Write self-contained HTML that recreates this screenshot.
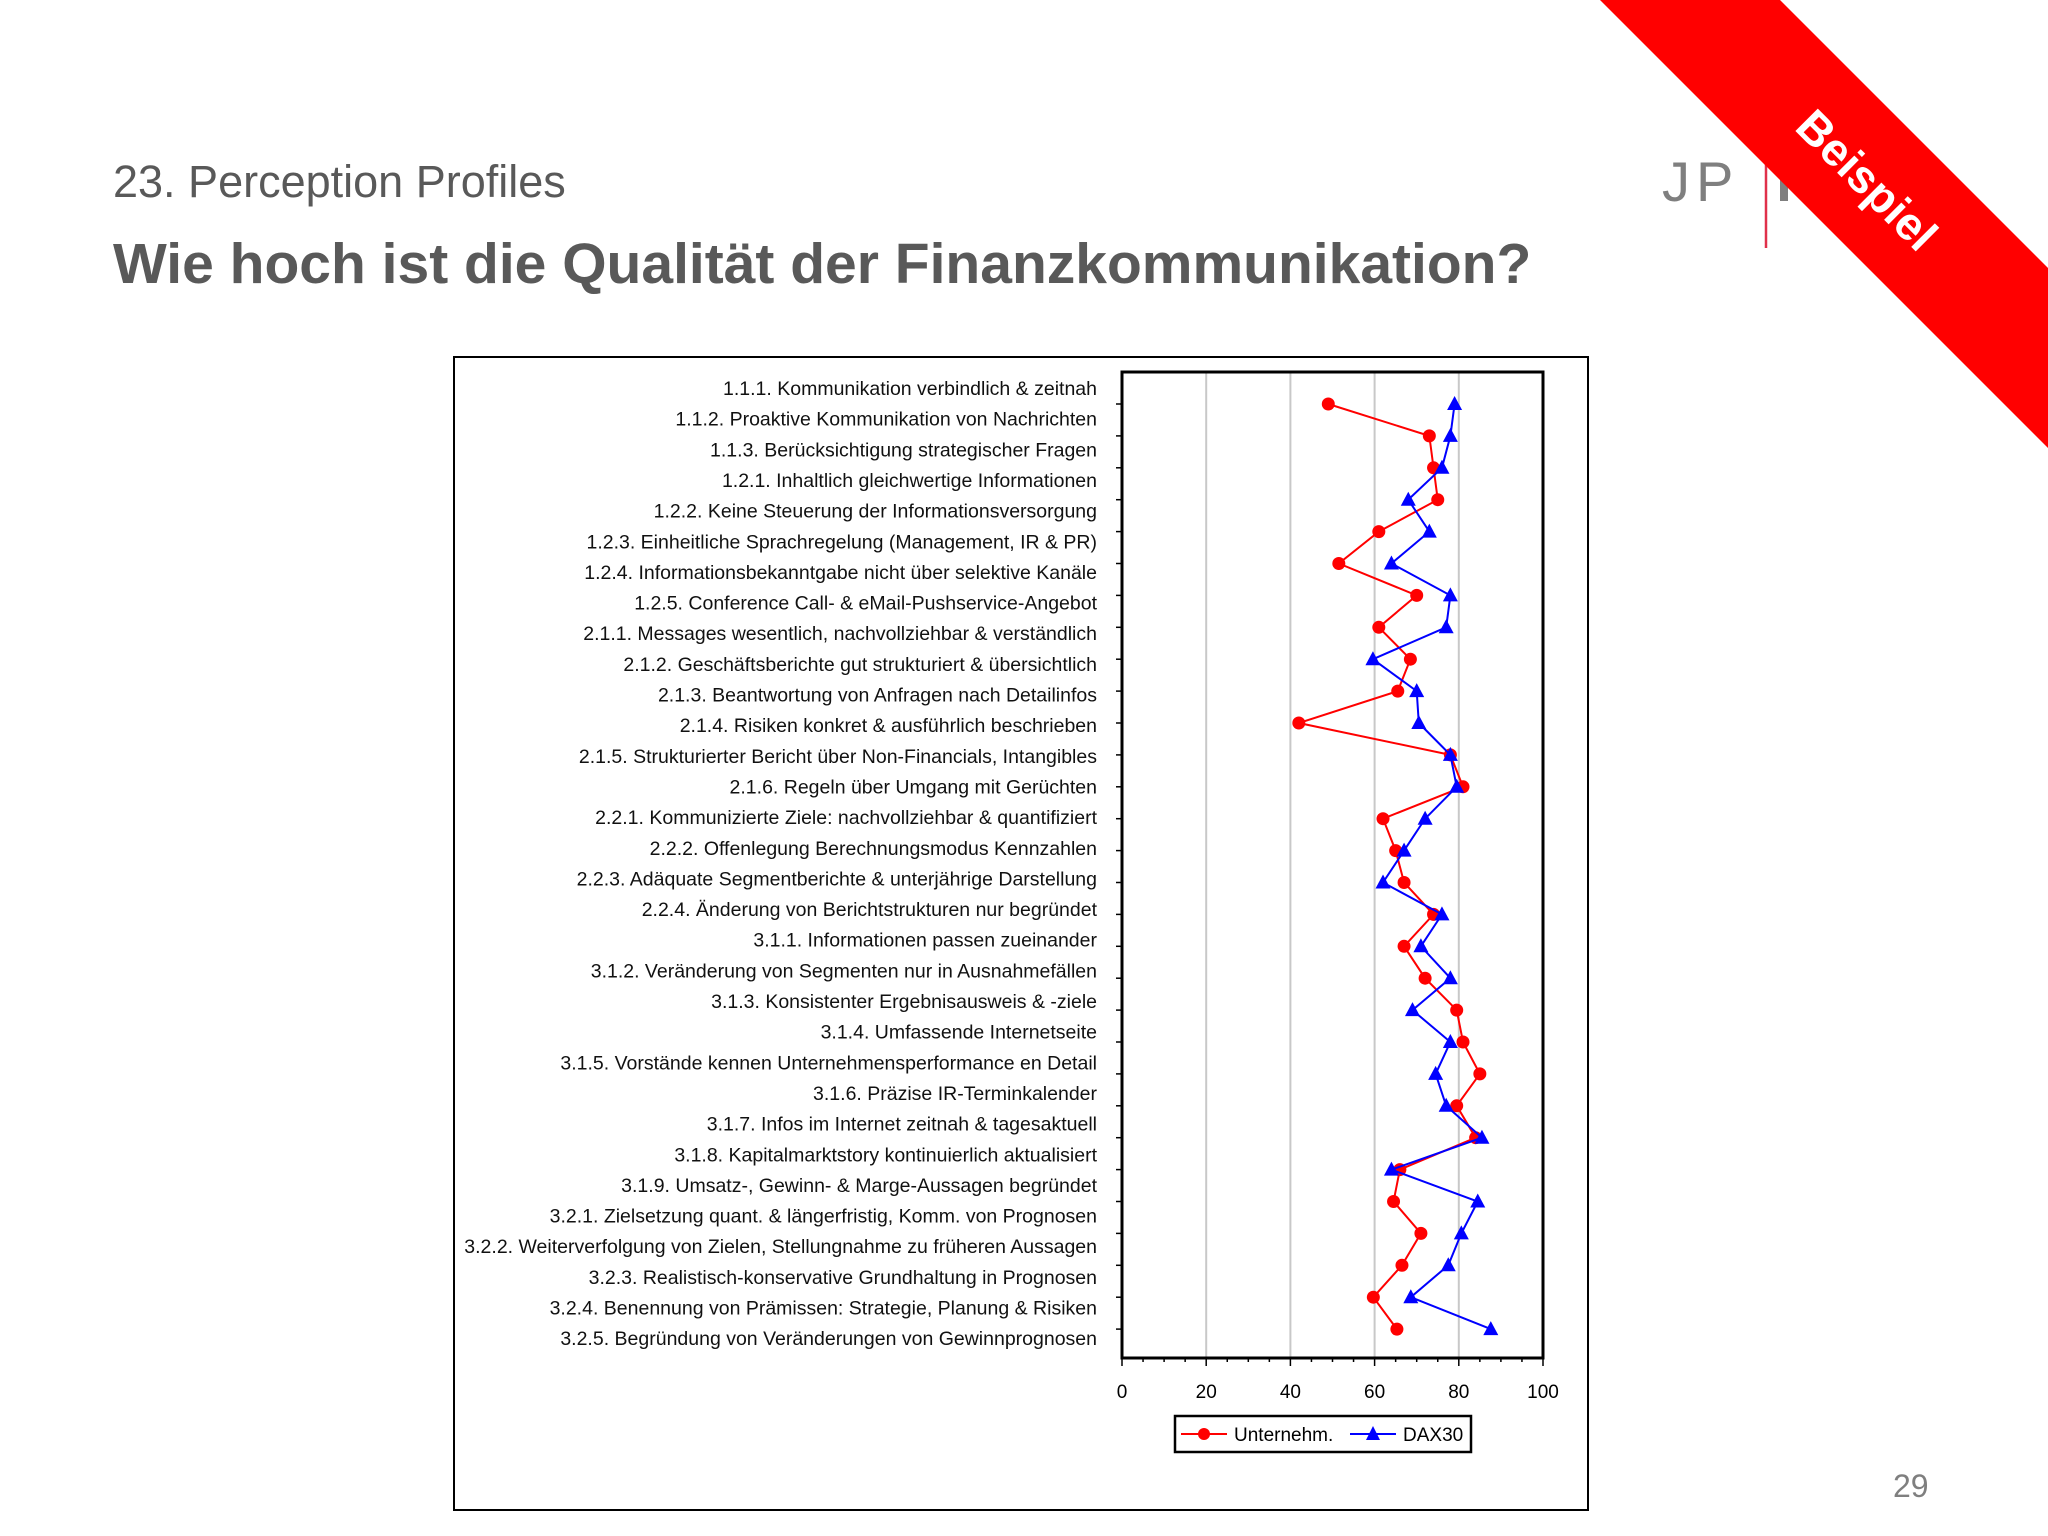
<!DOCTYPE html>
<html><head><meta charset="utf-8">
<style>
html,body{margin:0;padding:0;background:#fff;}
body{width:2048px;height:1536px;position:relative;overflow:hidden;font-family:"Liberation Sans",Arial,sans-serif;}
.sub{position:absolute;left:113px;top:156px;font-size:45px;color:#595959;}
.ttl{position:absolute;left:113px;top:231px;font-size:57px;font-weight:bold;color:#595959;}
.pg{position:absolute;left:1893px;top:1468px;font-size:32px;color:#7f7f7f;}
</style></head>
<body>
<div class="sub">23. Perception Profiles</div>
<div class="ttl">Wie hoch ist die Qualität der Finanzkommunikation?</div>
<div class="pg">29</div>

<svg width="2048" height="1536" style="position:absolute;left:0;top:0">
  <g>
    <text x="1662" y="201" font-family="Liberation Sans" font-size="56" letter-spacing="6" fill="#7f7f7f">JP</text>
    <line x1="1766" y1="148" x2="1766" y2="248" stroke="#e0304a" stroke-width="2.5"/>
    <rect x="1780" y="163" width="8" height="38" fill="#7f7f7f"/>
  </g>
  <polygon points="1600,0 1780,0 2048,268 2048,448" fill="#ff0000"/>
  <text x="1867" y="196" transform="rotate(45 1867 180)" text-anchor="middle" font-family="Liberation Sans" font-weight="bold" font-size="46" fill="#fff">Beispiel</text>
  <rect x="454" y="357" width="1134" height="1153" fill="none" stroke="#000" stroke-width="2"/>
  <g id="chart"></g>
</svg>

<script>
const categories = [
"1.1.1. Kommunikation verbindlich & zeitnah",
"1.1.2. Proaktive Kommunikation von Nachrichten",
"1.1.3. Berücksichtigung strategischer Fragen",
"1.2.1. Inhaltlich gleichwertige Informationen",
"1.2.2. Keine Steuerung der Informationsversorgung",
"1.2.3. Einheitliche Sprachregelung (Management, IR & PR)",
"1.2.4. Informationsbekanntgabe nicht über selektive Kanäle",
"1.2.5. Conference Call- & eMail-Pushservice-Angebot",
"2.1.1. Messages wesentlich, nachvollziehbar & verständlich",
"2.1.2. Geschäftsberichte gut strukturiert & übersichtlich",
"2.1.3. Beantwortung von Anfragen nach Detailinfos",
"2.1.4. Risiken konkret & ausführlich beschrieben",
"2.1.5. Strukturierter Bericht über Non-Financials, Intangibles",
"2.1.6. Regeln über Umgang mit Gerüchten",
"2.2.1. Kommunizierte Ziele: nachvollziehbar & quantifiziert",
"2.2.2. Offenlegung Berechnungsmodus Kennzahlen",
"2.2.3. Adäquate Segmentberichte & unterjährige Darstellung",
"2.2.4. Änderung von Berichtstrukturen nur begründet",
"3.1.1. Informationen passen zueinander",
"3.1.2. Veränderung von Segmenten nur in Ausnahmefällen",
"3.1.3. Konsistenter Ergebnisausweis & -ziele",
"3.1.4. Umfassende Internetseite",
"3.1.5. Vorstände kennen Unternehmensperformance en Detail",
"3.1.6. Präzise IR-Terminkalender",
"3.1.7. Infos im Internet zeitnah & tagesaktuell",
"3.1.8. Kapitalmarktstory kontinuierlich aktualisiert",
"3.1.9. Umsatz-, Gewinn- & Marge-Aussagen begründet",
"3.2.1. Zielsetzung quant. & längerfristig, Komm. von Prognosen",
"3.2.2. Weiterverfolgung von Zielen, Stellungnahme zu früheren Aussagen",
"3.2.3. Realistisch-konservative Grundhaltung in Prognosen",
"3.2.4. Benennung von Prämissen: Strategie, Planung & Risiken",
"3.2.5. Begründung von Veränderungen von Gewinnprognosen"
];
const unternehmValues = [49,73,74,75,61,51.5,70,61,68.5,65.5,42,78,81,62,65,67,74,67,72,79.5,81,85,79.5,84,66,64.5,71,66.5,59.7,65.3];
const daxValues = [79,78,76,68,73,64,78,77,59.6,70,70.5,78,79.5,72,67,62,76,71,78,69,78,74.5,77,85.5,64,84.5,80.6,77.5,68.6,87.6];
const xTicks = [0,20,40,60,80,100];
const seriesNames = ["Unternehm.","DAX30"];

const NS="http://www.w3.org/2000/svg";
const g=document.getElementById('chart');
const L=1122,R=1543,T=372,B=1358;
function xs(v){return L+(v-0)/(100-0)*(R-L);}
const labTop=389,labStep=30.65;
function ly(i){return labTop+i*labStep;}
const ptTop=404,ptStep=31.9;
function py(i){return ptTop+i*ptStep;}
function el(tag,attrs,parent){const e=document.createElementNS(NS,tag);for(const k in attrs)e.setAttribute(k,attrs[k]);(parent||g).appendChild(e);return e;}

xTicks.forEach(t=>{
  if(t>0&&t<100){const gl=el('line',{x1:xs(t),x2:xs(t),y1:T,y2:B,stroke:'#c8c8c8','stroke-width':2});
  
  }
  const tl=el('text',{x:xs(t),y:1398,'text-anchor':'middle','font-size':19,'font-family':'Liberation Sans',fill:'#000'});
  tl.textContent=t;
  
  
});
for(let v=0;v<=100;v+=5){
  const mt=el('line',{x1:xs(v),x2:xs(v),y1:B,y2:B+(v%20===0?8:4),stroke:'#000','stroke-width':1.5});
  
  
}
unternehmValues.forEach((v,i)=>{
  const yt=el('line',{x1:L-6,x2:L,y1:py(i),y2:py(i),stroke:'#000','stroke-width':1.5});
  
  
});
const pb=el('rect',{x:L,y:T,width:R-L,height:B-T,fill:'none',stroke:'#000','stroke-width':3});



categories.forEach((c,i)=>{
  const t=el('text',{x:1097,y:ly(i)+6,'text-anchor':'end','font-size':19.5,'font-family':'Liberation Sans',fill:'#111'});
  t.textContent=c;
  
  
});

function drawSeries(vals,color,shape,name){
  const pts=vals.map((v,i)=>xs(v)+','+py(i)).join(' ');
  const pl=el('polyline',{points:pts,fill:'none',stroke:color,'stroke-width':2});
  
  
  vals.forEach((v,i)=>{
    let m;
    const x=xs(v),y=py(i);
    if(shape==='circle') m=el('circle',{cx:x,cy:y,r:6.5,fill:color});
    else m=el('polygon',{points:`${x},${y-8} ${x-7.5},${y+6} ${x+7.5},${y+6}`,fill:color});
    
    
  });
}
drawSeries(unternehmValues,'#ff0000','circle','unternehm');
drawSeries(daxValues,'#0000ff','triangle','dax30');

const lg=el('g',{});


const lb=el('rect',{x:1175,y:1416,width:296,height:36,fill:'#fff',stroke:'#000','stroke-width':2.5},lg);


[[1181,'#ff0000','circle',seriesNames[0]],[1350,'#0000ff','tri',seriesNames[1]]].forEach(([x0,c,s,n])=>{
  const ln=el('line',{x1:x0,x2:x0+46,y1:1434,y2:1434,stroke:c,'stroke-width':2},lg);
  
  
  const cx=x0+23;
  const mk = s==='circle'? el('circle',{cx:cx,cy:1434,r:6,fill:c},lg) : el('polygon',{points:`${cx},${1426} ${cx-7},${1440} ${cx+7},${1440}`,fill:c},lg);
  
  
  const t=el('text',{x:x0+53,y:1441,'font-size':19,'font-family':'Liberation Sans',fill:'#000'},lg);
  t.textContent=n;
  
  
});
</script>
</body></html>
